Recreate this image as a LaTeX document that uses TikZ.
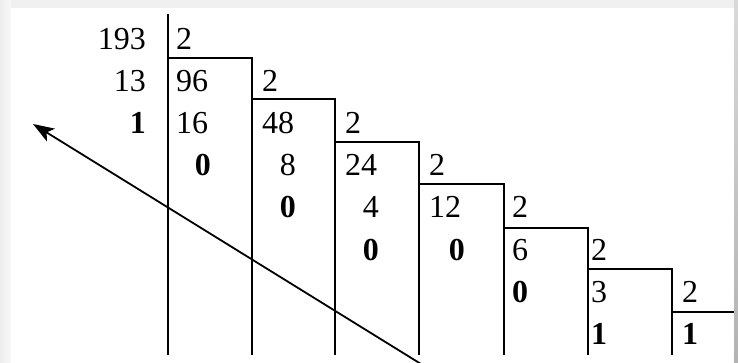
\documentclass[tikz,border=0pt]{standalone}
\usepackage{fontspec}
\setmainfont{Liberation Serif}
\usetikzlibrary{arrows.meta}
\begin{document}
\begin{tikzpicture}[x=1pt,y=-1pt,
  num/.style={inner sep=0pt,font=\fontsize{32}{38}\selectfont},
  nl/.style={num,anchor=base west},
  nr/.style={num,anchor=base east},
  rule/.style={line width=1.8pt,line join=miter}]
% frame
\fill[gray!12] (0,0) rectangle (738,363);
\shade[left color=gray!14,right color=gray!6] (0,0) rectangle (11,363);
\shade[top color=gray!30,bottom color=gray!60] (734,0) rectangle (738,363);
\fill[white] (11,8) rectangle (734,363);
\useasboundingbox (0,0) rectangle (738,363);
% step lines
\coordinate (t0) at (168,14);
\coordinate (c0) at (168,58);  \coordinate (b0) at (168,355);
\coordinate (c1) at (252,58);  \coordinate (d1) at (252,99);  \coordinate (b1) at (252,355);
\coordinate (c2) at (335,99);  \coordinate (d2) at (335,142); \coordinate (b2) at (335,355);
\coordinate (c3) at (419,142); \coordinate (d3) at (419,184); \coordinate (b3) at (419,355);
\coordinate (c4) at (504,184); \coordinate (d4) at (504,228); \coordinate (b4) at (504,355);
\coordinate (c5) at (588,228); \coordinate (d5) at (588,269); \coordinate (b5) at (588,355);
\coordinate (c6) at (672,269); \coordinate (d6) at (672,312); \coordinate (b6) at (672,355);
\coordinate (e6) at (734,312);
\draw[rule] (t0) -- (b0);
\draw[rule] (c0) -- (c1) -- (b1);
\draw[rule] (d1) -- (c2) -- (b2);
\draw[rule] (d2) -- (c3) -- (b3);
\draw[rule] (d3) -- (c4) -- (b4);
\draw[rule] (d4) -- (c5) -- (b5);
\draw[rule] (d5) -- (c6) -- (b6);
\draw[rule] (d6) -- (e6);
% column 0
\node[nr] (a1) at (146,50) {193};
\node[nr] (a2) at (146,92) {13};
\node[nr] (a3) at (146,134) {\textbf{1}};
% column 1
\node[nl] (k1) at (176,50) {2};
\node[nl] (q1) at (176,92) {96};
\node[nl] (r1a) at (176,134) {16};
\node[nr] (r1b) at (211,176) {\textbf{0}};
% column 2
\node[nl] (k2) at (262,92) {2};
\node[nl] (q2) at (262,134) {48};
\node[nr] (r2a) at (296,176) {8};
\node[nr] (r2b) at (296,218) {\textbf{0}};
% column 3
\node[nl] (k3) at (345,134) {2};
\node[nl] (q3) at (345,176) {24};
\node[nr] (r3a) at (379,218) {4};
\node[nr] (r3b) at (379,260) {\textbf{0}};
% column 4
\node[nl] (k4) at (429,176) {2};
\node[nl] (q4) at (429,218) {12};
\node[nr] (r4a) at (465,260) {\textbf{0}};
% column 5
\node[nl] (k5) at (512,218) {2};
\node[nl] (q5) at (512,260) {6};
\node[nl] (r5a) at (512,302) {\textbf{0}};
% column 6
\node[nl] (k6) at (591,260) {2};
\node[nl] (q6) at (591,302) {3};
\node[nl] (r6a) at (591,344) {\textbf{1}};
% column 7
\node[nl] (k7) at (682,302) {2};
\node[nl] (q7) at (682,344) {\textbf{1}};
% arrow
\coordinate (arrS) at (421,364);
\coordinate (arrT) at (33,124);
\draw[line width=1.8pt,-{Stealth[length=21pt,width=15pt,inset=5pt]}] (arrS) -- (arrT);
\end{tikzpicture}
\end{document}
